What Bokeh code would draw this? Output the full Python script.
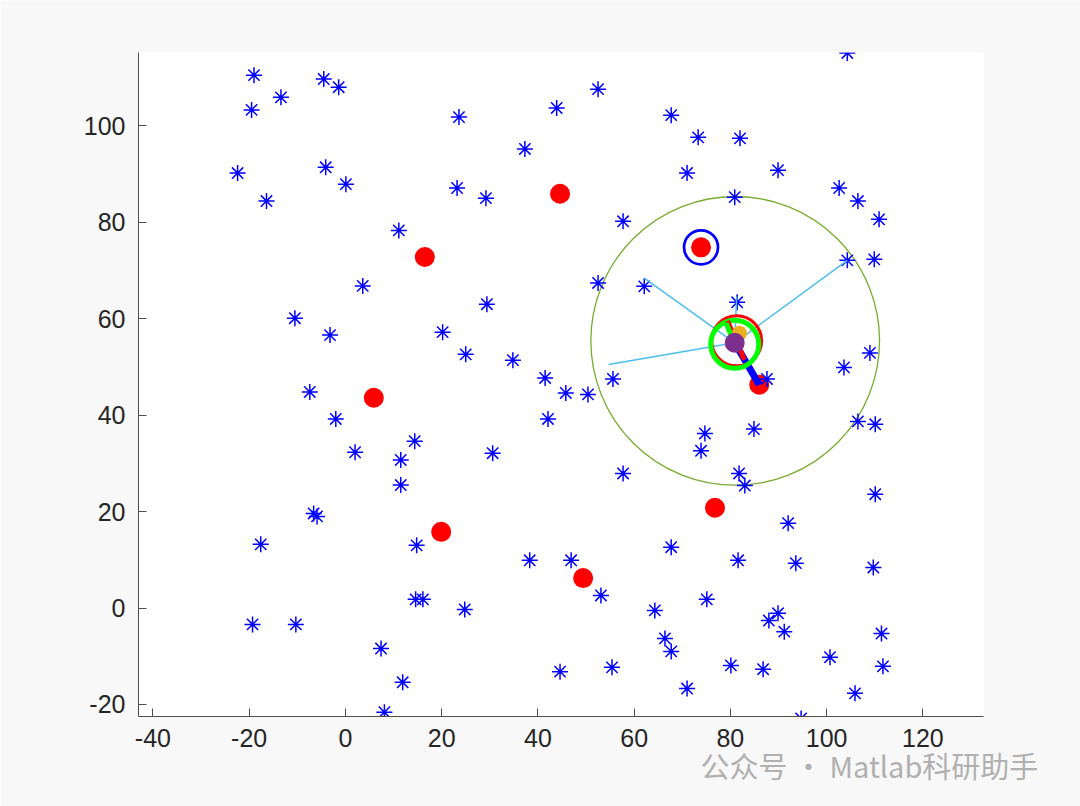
from bokeh.plotting import figure
from bokeh.models import Range1d, FixedTicker, Title
from bokeh.embed import file_html
from bokeh.resources import INLINE

# ---- data ----
star_x = [-19.0, -19.5, -13.4, -4.5, -1.4, -22.4, -16.4, -4.1, 0.1, 23.6,
          43.9, 52.5, 37.3, 23.2, 29.2, 11.1, 3.6, -10.5, -3.2, 29.4,
          20.2, 25.0, 34.8, -7.4, -2.0, 2.0, 14.4, 11.5, 11.5, 30.6,
          41.5, 42.1, 45.8, 50.4, 55.6, 52.5, 62.1, 57.7, 67.7, 73.3,
          82.0, 71.0, 80.9, 89.9, 102.6, 106.5, 110.9, 104.3, 104.3, 109.9,
          81.4, 109.0, 103.6, 87.6, 106.5, 110.1, 74.7, 73.9, 84.9, 81.8,
          83.0, 57.7, 110.1, 92.0, -17.6, -6.6, -5.9, 14.8, 38.3, 46.9,
          67.7, 81.6, 93.6, 109.7, 14.6, 16.1, 24.8, 53.1, 64.3, 75.1,
          -19.3, -10.3, 7.4, 66.4, 67.7, 89.9, 88.0, 91.2, 111.4, 100.7,
          111.7, 80.1, 86.8, 55.4, 44.6, 11.9, 71.0, 105.9, 8.1, 94.7]
star_y = [110.5, 103.3, 105.9, 109.7, 108.0, 90.2, 84.4, 91.4, 87.9, 101.8,
          103.7, 107.6, 95.2, 87.1, 85.0, 78.3, 66.8, 60.1, 56.6, 63.0,
          57.2, 52.6, 51.4, 44.8, 39.2, 32.3, 34.6, 30.7, 25.5, 32.1,
          47.7, 39.2, 44.6, 44.3, 47.5, 67.4, 66.7, 80.2, 102.2, 97.6,
          97.4, 90.2, 85.2, 90.8, 87.1, 84.4, 80.6, 115.1, 72.1, 72.3,
          63.4, 52.9, 49.9, 47.5, 38.7, 38.1, 36.2, 32.6, 37.1, 27.9,
          25.4, 27.9, 23.6, 17.6, 13.2, 19.6, 19.0, 13.0, 9.9, 9.9,
          12.6, 9.9, 9.3, 8.4, 1.8, 1.8, -0.3, 2.6, -0.5, 1.8,
          -3.4, -3.4, -8.4, -6.3, -9.0, -1.1, -2.6, -4.9, -5.3, -10.2,
          -12.1, -11.9, -12.7, -12.3, -13.2, -15.4, -16.7, -17.7, -21.6, -22.9]

target_x = [44.6, 16.5, 5.9, 19.9, 49.4, 76.8, 86.0, 73.9]
target_y = [85.9, 72.8, 43.6, 15.8, 6.2, 20.8, 46.3, 74.8]

marked_x = [73.9]          # target circled in blue
marked_y = [74.8]

agent_x = [80.9]           # agent position
agent_y = [55.0]
sense_radius = [30.0]      # sensing circle
sense_cx = [81.0]
sense_cy = [55.4]

link_x = [62.1, 104.3, 54.7, 81.3]   # cyan links from agent
link_y = [68.4, 72.1, 50.5, 64.6]

heading_red_x = [79.4, 82.9]
heading_red_y = [59.5, 51.5]
heading_green_x = [79.1, 80.3]
heading_green_y = [59.1, 56.2]
path_blue_x = [80.9, 86.0]
path_blue_y = [55.0, 46.3]

orange_x = [81.9]
orange_y = [57.0]
red_ring_x = [81.3]
red_ring_y = [55.4]
green_ring_x = [80.9]
green_ring_y = [54.7]

x_lim = (-43.0, 132.6)
y_lim = (-22.5, 115.2)
x_ticks = [-40, -20, 0, 20, 40, 60, 80, 100, 120]
x_tick_labels = ["-40", "-20", "0", "20", "40", "60", "80", "100", "120"]
y_ticks = [-20, 0, 20, 40, 60, 80, 100]
y_tick_labels = ["-20", "0", "20", "40", "60", "80", "100"]

watermark = "公众号 · Matlab科研助手"

BG = "#f8f8f8"

p = figure(width=1080, height=806,
           x_range=Range1d(*x_lim), y_range=Range1d(*y_lim),
           output_backend="svg", toolbar_location=None,
           min_border_left=138, min_border_right=97,
           min_border_top=52, min_border_bottom=90)
p.background_fill_color = "white"
p.border_fill_color = BG
p.outline_line_color = None
p.grid.visible = False

p.xaxis.ticker = FixedTicker(ticks=x_ticks)
p.xaxis.major_label_overrides = dict(zip(x_ticks, x_tick_labels))
p.yaxis.ticker = FixedTicker(ticks=y_ticks)
p.yaxis.major_label_overrides = dict(zip(y_ticks, y_tick_labels))
for ax in (p.xaxis[0], p.yaxis[0]):
    ax.axis_line_color = "#4d4d4d"
    ax.axis_line_width = 1
    ax.major_tick_line_color = "#4d4d4d"
    ax.major_tick_in = 8
    ax.major_tick_out = 0
    ax.minor_tick_line_color = None
    ax.major_label_text_font = "Liberation Sans"
    ax.major_label_text_font_size = "25px"
    ax.major_label_text_color = "#262626"
p.yaxis.major_label_standoff = 13
p.xaxis.major_label_standoff = 12

# sensing circle
p.circle(x=sense_cx, y=sense_cy, radius=sense_radius, fill_color=None,
         line_color="#77AC30", line_width=1.3)

# targets
p.scatter(target_x, target_y, marker="circle", size=20,
          fill_color="red", line_color=None)
p.scatter(marked_x, marked_y, marker="circle", size=34,
          fill_color=None, line_color="blue", line_width=2.7)

# stars
p.scatter(star_x, star_y, marker="asterisk", size=16,
          line_color="blue", line_width=1.5)

# links
for lx, ly in zip(link_x, link_y):
    p.line([agent_x[0], lx], [agent_y[0], ly], line_color="#4DBEEE", line_width=1.5)

# agent decorations
p.line(path_blue_x, path_blue_y, line_color="blue", line_width=7)
p.scatter(red_ring_x, red_ring_y, marker="circle", size=50,
          fill_color=None, line_color="red", line_width=3)
p.scatter(green_ring_x, green_ring_y, marker="circle", size=48,
          fill_color=None, line_color="#00ff00", line_width=5)
p.line(heading_red_x, heading_red_y, line_color="red", line_width=5)
p.line(heading_green_x, heading_green_y, line_color="#00ff00", line_width=5)
p.scatter(orange_x, orange_y, marker="circle", size=15,
          fill_color="#EDB120", line_color=None)
p.scatter(agent_x, agent_y, marker="circle", size=20,
          fill_color="#7E2F8E", line_color=None)

# watermark text below the axes
p.add_layout(Title(text=watermark, align="left", offset=562,
                   text_font="Noto Sans CJK SC", text_font_size="29px",
                   text_font_style="normal", text_color="#b0b0b0",
                   standoff=-16), "below")

html = file_html(p, INLINE)
html = html.replace("<body>", '<body style="background-color:#f8f8f8;">', 1)
open("out.html", "w").write(html)
